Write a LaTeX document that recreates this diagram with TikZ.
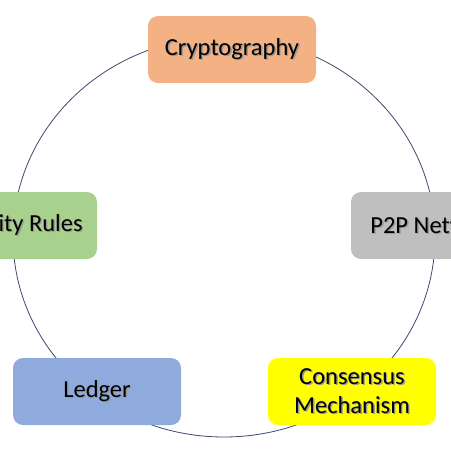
\documentclass[tikz,border=0pt]{standalone}
\usepackage{fontspec}
\setmainfont{Carlito}
\definecolor{cryptc}{HTML}{F4B183}
\definecolor{securc}{HTML}{A9D18E}
\definecolor{netc}{HTML}{BFBFBF}
\definecolor{ledgc}{HTML}{8FAADC}
\definecolor{consc}{HTML}{FFFF00}
\definecolor{ringc}{HTML}{3B4A6B}
\newcommand\shd[1]{\makebox[0pt][l]{\kern1.4pt\raisebox{-1.4pt}{\textcolor{black!40}{#1}}}#1}
\begin{document}
\begin{tikzpicture}[x=1pt,y=-1pt,
  box/.style={rounded corners=10pt, minimum width=168pt, minimum height=67pt,
    inner sep=0pt, align=center, font=\fontsize{24.5}{29}\selectfont, text=black},
  ring/.style={draw=ringc, line width=0.8pt}]
\useasboundingbox (0,0) rectangle (451,451);
\clip (0,0) rectangle (451,451);
\fill[white] (0,0) rectangle (451,451);
\draw[ring] (224,237) ellipse [x radius=211, y radius=200];
\node[box, fill=cryptc] (crypto) at (232,49.5) {\shd{Cryptography}};
\node[box, fill=securc] (secur) at (13,225.5) {\shd{Security Rules}};
\node[box, fill=netc] (net) at (435,225.5) {\shd{P2P Network}};
\node[box, fill=ledgc] (ledger) at (97,391.5) {\shd{Ledger}};
\node[box, fill=consc] (cons) at (352,391.5) {\shd{Consensus}\\\shd{Mechanism}};
\end{tikzpicture}
\end{document}
